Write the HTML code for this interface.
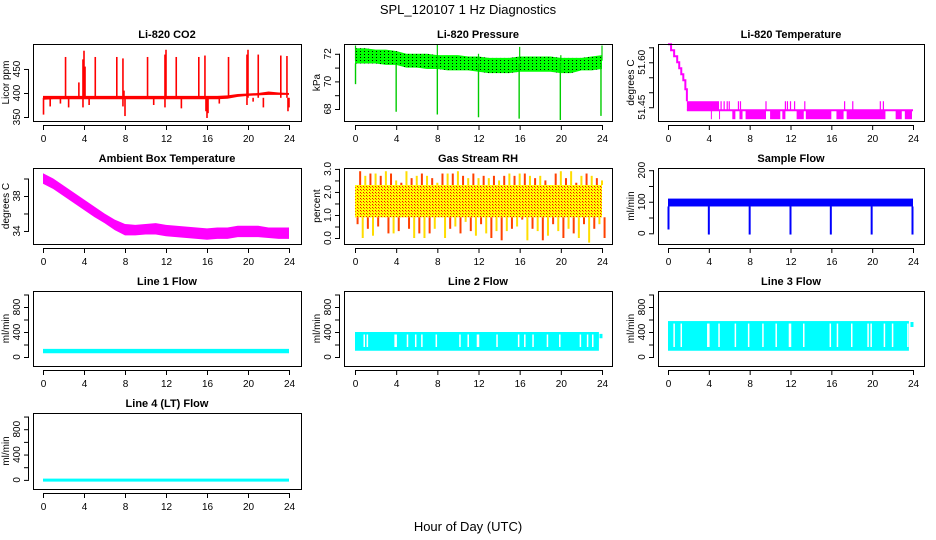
<!DOCTYPE html>
<html><head><meta charset="utf-8">
<style>
html,body{margin:0;padding:0;background:#fff;}
svg{display:block;font-family:"Liberation Sans",Arial,sans-serif;}
</style></head>
<body>
<svg id="chart" width="936" height="540" viewBox="0 0 936 540" xmlns="http://www.w3.org/2000/svg">
<defs>
<pattern id="pdots" width="4" height="3" patternUnits="userSpaceOnUse"><rect width="4" height="3" fill="#00ff00"/><rect width="1" height="1" fill="#000"/></pattern>
<pattern id="rhdots" width="3" height="3" patternUnits="userSpaceOnUse"><rect width="3" height="3" fill="#ffff00"/><rect width="1" height="1" fill="#ff0000"/><rect x="1" y="1" width="1" height="1" fill="#f07000"/></pattern>
</defs>
<text x="468" y="14" font-size="13" text-anchor="middle">SPL_120107  1 Hz Diagnostics</text>
<text x="468" y="531" font-size="13" text-anchor="middle">Hour of Day (UTC)</text>
</svg>
<script>
const hours = [0,1,2,3,4,5,6,7,8,9,10,11,12,13,14,15,16,17,18,19,20,21,22,23,24];
const xTicks = [0,4,8,12,16,20,24];

// CO2
const co2Lower = [386,387,387,387,387,387,387,387,387,387,387,387,387,387,387,387,387,387,388,392,394,395,396,396,396];
const co2Upper = [394,394,394,394,394,394,394,394,394,394,394,394,394,394,394,394,394,394,395,398,399,400,403,401,400];
const co2SpikeT = [2.2,3.5,3.9,4.0,4.1,5.1,7.2,7.8,7.9,10.2,11.9,12.0,13.0,15.2,15.8,18.1,19.9,20.0,21.0,23.2,23.8];
const co2SpikeV = [475,422,470,488,455,475,475,472,405,475,480,490,475,475,478,475,480,490,480,478,477];
const co2DipT = [0.05,0.7,1.7,2.5,3.9,4.5,7.8,8.0,10.8,11.9,13.5,15.9,16.0,16.1,17.2,19.9,20.5,21.5,23.9,24.0];
const co2DipV = [355,372,378,370,370,375,372,352,375,370,368,362,348,358,378,375,382,370,362,370];

// Pressure
const presUpper = [72.4,72.4,72.3,72.3,72.2,72.0,72.0,72.0,71.9,71.9,71.9,71.8,71.8,71.7,71.7,71.7,71.8,71.8,71.8,71.8,71.7,71.7,71.7,71.8,71.9];
const presLower = [71.3,71.3,71.3,71.2,71.2,71.0,71.0,70.9,70.9,70.8,70.8,70.8,70.7,70.6,70.6,70.6,70.7,70.7,70.7,70.7,70.6,70.6,70.8,70.8,70.9];
const presDropT = [0.05,4.0,8.0,12.0,15.95,19.95,23.9];
const presDropV = [69.8,67.8,67.6,67.4,67.3,67.2,67.5];
const presUpT = [0.05,8.0,12.0,16.0,20.0,24.0];
const presUpV = [72.6,72.7,72.0,72.5,71.9,72.6];

// Li-820 temperature
const tempStepT = [0,0.3,0.6,0.9,1.1,1.3,1.5,1.7,1.85];
const tempStepV = [51.66,51.64,51.62,51.60,51.58,51.56,51.54,51.51,51.47];
const tempBase = 51.44;
const tempHigh = 51.47;
const tempLow = 51.41;
const tempDownStart = [4.2,5.0,6.3,7.0,7.6,10.0,11.2,12.6,13.5,16.5,17.5,22.3,23.2];
const tempDownEnd = [4.25,5.05,6.6,7.3,9.6,11.0,11.5,13.3,16.0,17.2,21.3,22.9,23.9];
const tempUpT = [5.2,5.5,5.8,6.0,6.9,7.1,9.6,11.5,11.7,12.0,12.4,13.4,17.3,18.1,20.8,21.1];

// Ambient box temperature
const ambUpper = [40.6,40.0,39.2,38.4,37.6,36.8,36.0,35.3,34.8,34.7,34.8,34.9,34.7,34.6,34.5,34.4,34.3,34.4,34.4,34.6,34.6,34.6,34.4,34.4,34.4];
const ambLower = [39.4,38.8,38.0,37.2,36.4,35.6,34.9,34.1,33.5,33.5,33.6,33.6,33.4,33.3,33.2,33.1,33.0,33.1,33.1,33.3,33.3,33.3,33.2,33.1,33.1];

// RH (half-hour envelopes)
const rhTop = [2.3,2.9,2.7,2.8,2.8,2.7,2.9,2.8,2.5,2.4,2.9,2.6,2.7,2.8,2.7,2.6,2.4,2.8,2.8,2.8,2.9,2.7,2.6,2.8,2.6,2.7,2.6,2.7,2.5,2.7,2.8,2.7,2.8,2.8,2.7,2.6,2.7,2.5,2.2,2.8,2.9,2.6,2.9,2.4,2.7,2.8,2.7,2.6,2.5];
const rhBottom = [0.6,0.0,0.4,0.1,0.5,0.9,0.2,0.2,0.3,0.9,0.4,0.0,0.2,0.0,0.2,0.4,0.9,0.0,0.4,0.5,0.2,0.7,0.3,0.1,0.6,0.2,0.0,0.3,-0.1,0.3,0.4,0.5,0.8,-0.1,0.4,0.3,-0.1,0.1,0.6,0.3,0.0,0.4,0.2,0.0,0.6,-0.2,0.4,0.6,0.0];
const rhCoreLow = 0.9;
const rhCoreHigh = 2.3;

// Sample flow
const sfUpper = 110;
const sfLower = 85;
const sfDropT = [0.05,4.0,8.0,12.0,15.95,19.95,23.95];
const sfDropV = [12,-4,-4,-4,-4,-4,-4];

// Line flows
const l1Lower = 60, l1Upper = 130;
const l2Lower = 100, l2Upper = 400;
const l3Lower = 100, l3Upper = 575;
const l4Lower = 0, l4Upper = 20;
const l2Gaps = [0.9,1.2,3.9,4.0,5.1,5.9,6.5,7.9,10.2,11.0,11.9,12.0,13.8,15.9,16.5,17.3,18.7,19.9,21.9,22.6,23.1];
const l3Gaps = [0.6,1.3,3.9,4.0,5.0,6.6,7.9,9.3,10.6,11.9,12.0,13.3,15.9,16.6,18.0,19.6,19.9,21.2,22.0,23.5];

const svg = document.getElementById('chart');
const NS = 'http://www.w3.org/2000/svg';
function mk(tag, attrs, parent){const e=document.createElementNS(NS,tag);for(const k in attrs)e.setAttribute(k,attrs[k]);(parent||svg).appendChild(e);return e;}

const cols = [{bx0:33,bx1:301,x0:43,x24:289},{bx0:344,bx1:612,x0:355,x24:602},{bx0:658,bx1:924,x0:668,x24:913}];
const rows = [{by0:44,by1:121},{by0:168,by1:244},{by0:291,by1:366},{by0:413,by1:489}];

function panel(name,title,ylab,c,r,dom,ticks,labels){
  const C=cols[c],R=rows[r];
  const g=mk('g',{});
  
  
  const xs=v=>C.x0+(C.x24-C.x0)*v/24;
  const ys=v=>R.by1-(R.by1-R.by0)*(v-dom[0])/(dom[1]-dom[0]);
  const t=mk('text',{x:(C.bx0+C.bx1)/2,y:R.by0-6,'font-size':11,'font-weight':'bold','text-anchor':'middle'},g);
  t.textContent=title;
  
  
  const plot=mk('g',{},g);
  
  
  const axes=mk('g',{stroke:'#000','stroke-width':1,fill:'none'},g);
  
  
  mk('rect',{x:C.bx0+0.5,y:R.by0+0.5,width:C.bx1-C.bx0,height:R.by1-R.by0},axes);
  mk('line',{x1:xs(0),x2:xs(24),y1:R.by1+4.5,y2:R.by1+4.5},axes);
  xTicks.forEach(v=>{
    mk('line',{x1:xs(v)+0.5,x2:xs(v)+0.5,y1:R.by1+4,y2:R.by1+9},axes);
    const tx=mk('text',{x:xs(v)+0.5,y:R.by1+21,'font-size':10,'text-anchor':'middle',fill:'#000',stroke:'none'},g);
    tx.textContent=v;
    
    
  });
  mk('line',{x1:C.bx0-4.5,x2:C.bx0-4.5,y1:ys(ticks[0]),y2:ys(ticks[ticks.length-1])},axes);
  ticks.forEach(v=>{
    mk('line',{x1:C.bx0-4,x2:C.bx0-9,y1:ys(v)+0.5,y2:ys(v)+0.5},axes);
  });
  labels.forEach(v=>{
    const yy=ys(parseFloat(v));
    const tx=mk('text',{x:C.bx0-13,y:yy,'font-size':10,'text-anchor':'middle',transform:`rotate(-90 ${C.bx0-13} ${yy})`},g);
    tx.textContent=v;
    
    
  });
  const yl=(R.by0+R.by1)/2;
  const yt=mk('text',{x:C.bx0-24,y:yl,'font-size':10,'text-anchor':'middle',transform:`rotate(-90 ${C.bx0-24} ${yl})`},g);
  yt.textContent=ylab;
  
  
  return {xs,ys,plot};
}
function band(P,tArr,lo,hi,fill){
  let pts=tArr.map((t,i)=>P.xs(t)+','+P.ys(hi[i])).concat(tArr.slice().reverse().map((t,j)=>{const i=tArr.length-1-j;return P.xs(t)+','+P.ys(lo[i]);}));
  return mk('polygon',{points:pts.join(' '),fill:fill,stroke:'none'},P.plot);
}
function vline(P,t,a,b,col,w){return mk('line',{x1:P.xs(t),x2:P.xs(t),y1:P.ys(a),y2:P.ys(b),stroke:col,'stroke-width':w||1.5},P.plot);}

// CO2
let P=panel('co2','Li-820 CO2','Licor ppm',0,0,[341.7,502],[350,400,450],['350','400','450']);
band(P,hours,co2Lower,co2Upper,'#ff0000');
co2SpikeT.forEach((t,i)=>{vline(P,t,390,co2SpikeV[i],'#ff0000',1.6);});
co2DipT.forEach((t,i)=>{vline(P,t,390,co2DipV[i],'#ff0000',1.6);});

// Pressure
P=panel('pressure','Li-820 Pressure','kPa',1,0,[67.13,72.71],[68,69,70,71,72],['68','70','72']);
band(P,hours,presLower,presUpper,'url(#pdots)');
presDropT.forEach((t,i)=>{vline(P,t,71.3,presDropV[i],'#00cc00',1.4);});
presUpT.forEach((t,i)=>{vline(P,t,71.5,presUpV[i],'#00cc00',1.2);});

// Li-820 temperature
P=panel('li820-temp','Li-820 Temperature','degrees C',2,0,[51.404,51.661],[51.45,51.50,51.55,51.60,51.65],['51.45','51.60']);
{
  let d='';
  tempStepT.forEach((t,i)=>{const x=P.xs(t),y=P.ys(tempStepV[i]);d+=(i?'L'+x+','+y:'M'+x+','+y);const nx=P.xs(i<tempStepT.length-1?tempStepT[i+1]:tempStepT[i]);d+='L'+nx+','+y;});
  mk('path',{d:d,fill:'none',stroke:'#ff00ff','stroke-width':2},P.plot);
  const s=tempStepT[tempStepT.length-1];
  mk('rect',{x:P.xs(s),y:P.ys(tempHigh),width:P.xs(5)-P.xs(s),height:P.ys(tempBase)-P.ys(tempHigh),fill:'#ff00ff'},P.plot);
  mk('line',{x1:P.xs(s),x2:P.xs(24),y1:P.ys(tempBase),y2:P.ys(tempBase),stroke:'#ff00ff','stroke-width':2},P.plot);
  tempDownStart.forEach((a,i)=>{mk('rect',{x:P.xs(a),y:P.ys(tempBase),width:Math.max(1,P.xs(tempDownEnd[i])-P.xs(a)),height:P.ys(tempLow)-P.ys(tempBase),fill:'#ff00ff'},P.plot);});
  tempUpT.forEach(t=>{vline(P,t,tempBase,tempHigh,'#ff00ff',1.2);});
}

// Ambient
P=panel('ambient-temp','Ambient Box Temperature','degrees C',0,1,[32.51,41.2],[34,36,38,40],['34','38']);
band(P,hours,ambLower,ambUpper,'#ff00ff');

// RH
P=panel('rh','Gas Stream RH','percent',1,1,[-0.26,3.04],[0,0.5,1,1.5,2,2.5,3],['0.0','1.0','2.0','3.0']);
rhTop.forEach((v,i)=>{vline(P,i*0.5,rhCoreHigh,v,i%2?'#ff4000':'#ffdd00',2);});
rhBottom.forEach((v,i)=>{vline(P,i*0.5+0.25,rhCoreLow,v,i%2?'#ffdd00':'#ff4000',2);});
mk('rect',{x:P.xs(0),y:P.ys(rhCoreHigh),width:P.xs(24)-P.xs(0),height:P.ys(rhCoreLow)-P.ys(rhCoreHigh),fill:'url(#rhdots)'},P.plot);

// Sample flow
P=panel('sample-flow','Sample Flow','ml/min',2,1,[-34,207],[0,50,100,150,200],['0','100','200']);
mk('rect',{x:P.xs(0),y:P.ys(sfUpper),width:P.xs(24)-P.xs(0),height:P.ys(sfLower)-P.ys(sfUpper),fill:'#0000ff'},P.plot);
sfDropT.forEach((t,i)=>{vline(P,t,sfLower,sfDropV[i],'#0000ff',2);});

function flowPanel(name,title,c,r,lo,hi,gaps,end){
  const P=panel(name,title,'ml/min',c,r,[-144,1056],[0,200,400,600,800,1000],['0','400','800']);
  mk('rect',{x:P.xs(0),y:P.ys(hi),width:P.xs(end)-P.xs(0),height:Math.max(3,P.ys(lo)-P.ys(hi)),fill:'#00ffff'},P.plot);
  gaps.forEach(t=>{vline(P,t,lo+60,hi-40,'#ffffff',1.5);});
  return P;
}
flowPanel('line1-flow','Line 1 Flow',0,2,l1Lower,l1Upper,[],24);
P=flowPanel('line2-flow','Line 2 Flow',1,2,l2Lower,l2Upper,l2Gaps,23.7);
vline(P,23.9,300,370,'#00ffff',3);
P=flowPanel('line3-flow','Line 3 Flow',2,2,l3Lower,l3Upper,l3Gaps,23.6);
vline(P,23.9,480,560,'#00ffff',3);
flowPanel('line4-flow','Line 4 (LT) Flow',0,3,l4Lower,l4Upper,[],24);
</script>
</body></html>
